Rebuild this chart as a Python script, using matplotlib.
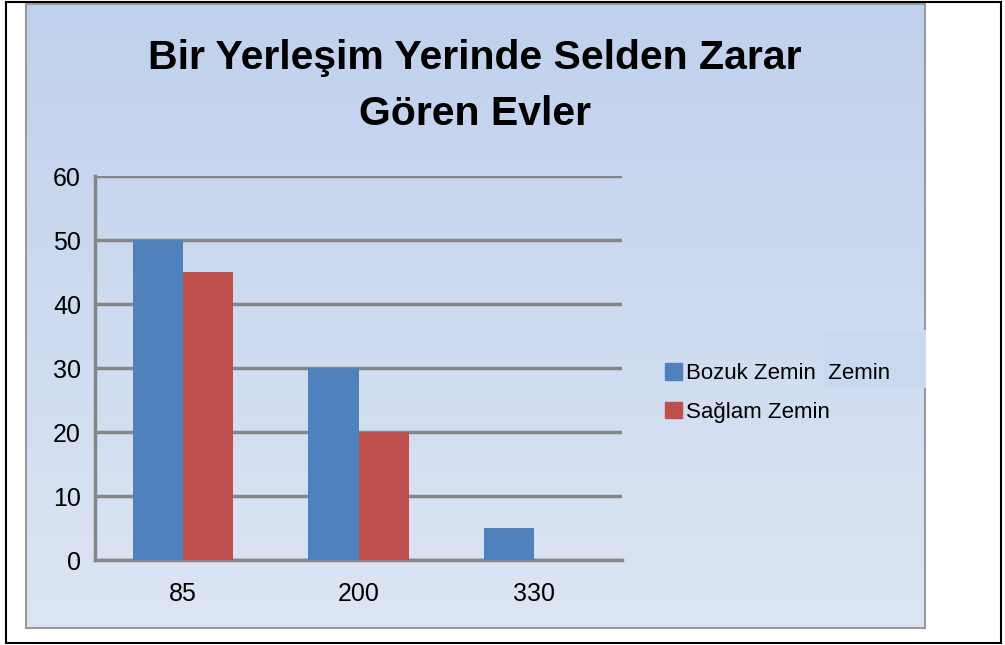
import numpy as np
import matplotlib
matplotlib.use("Agg")
import matplotlib.pyplot as plt
from matplotlib.patches import Rectangle, Patch

W, H = 1005, 645

# data
categories = ["85", "200", "330"]
bozuk = [50, 30, 5]
saglam = [45, 20, 0]
series_names = ["Bozuk Zemin  Zemin", "Sağlam Zemin"]
yticks = [0, 10, 20, 30, 40, 50, 60]
title = "Bir Yerleşim Yerinde Selden Zarar\nGören Evler"

blue = "#4f81bd"
red = "#c0504d"
grid_gray = "#868686"

plt.rcParams['font.family'] = ['Liberation Sans', 'DejaVu Sans']

def fx(px):
    return px / W

def fy(py):
    return 1 - py / H

fig = plt.figure(figsize=(W / 100, H / 100), dpi=100)
fig.patch.set_facecolor("white")

# outer black frame
fig.patches.append(Rectangle((fx(6), fy(643)), fx(995), 641 / H, transform=fig.transFigure,
                             fill=False, edgecolor="black", linewidth=1.5, zorder=0))

# chart area with vertical gradient
bg = fig.add_axes([fx(26), fy(628), fx(899), 624 / H], zorder=0)
top_c = np.array([0xc0, 0xd1, 0xed]) / 255
bot_c = np.array([0xdc, 0xe5, 0xf3]) / 255
t = np.linspace(0, 1, 256)[:, None]
grad = (top_c * (1 - t) + bot_c * t)[:, None, :]
bg.imshow(grad, aspect="auto", extent=[0, 1, 0, 1])
bg.set_xticks([])
bg.set_yticks([])
for s in bg.spines.values():
    s.set_color("#9a9a9a")
    s.set_linewidth(1.5)

# odd lighter box behind the legend text
fig.patches.append(Rectangle((fx(824), fy(388)), fx(102), 58 / H, transform=fig.transFigure,
                             facecolor="#c9daf0", edgecolor="none", zorder=1))

ax = fig.add_axes([fx(95), fy(560), fx(527), 384 / H], zorder=2)
ax.set_facecolor("none")

x = np.arange(len(categories))
bw = 0.285
ax.bar(x - bw / 2, bozuk, bw, color=blue, zorder=3, label=series_names[0])
ax.bar(x + bw / 2, saglam, bw, color=red, zorder=3, label=series_names[1])

ax.set_xlim(-0.5, len(categories) - 0.5)
ax.set_ylim(0, 60)
ax.set_yticks(yticks)
ax.set_xticks(x)
ax.set_xticklabels(categories)
ax.yaxis.grid(True, color=grid_gray, linewidth=2.5, zorder=1)
ax.set_axisbelow(True)
ax.tick_params(axis="both", length=0, labelsize=18)
ax.tick_params(axis="y", pad=10)
ax.tick_params(axis="x", pad=16)
for side in ["top", "right"]:
    ax.spines[side].set_visible(False)
for side in ["left", "bottom"]:
    ax.spines[side].set_color(grid_gray)
    ax.spines[side].set_linewidth(2.5)

fig.text(fx(475), fy(86), title, ha="center", va="center", fontsize=29.5,
         fontweight="bold", linespacing=1.6)

handles = [Patch(color=blue), Patch(color=red)]
leg = fig.legend(handles, series_names, loc="center left",
                 bbox_to_anchor=(fx(645), fy(393)), frameon=False,
                 fontsize=16, handlelength=0.75, handleheight=0.75,
                 handletextpad=0.2, labelspacing=0.8)
leg.set_zorder(5)

fig.savefig("out.png", dpi=100)
